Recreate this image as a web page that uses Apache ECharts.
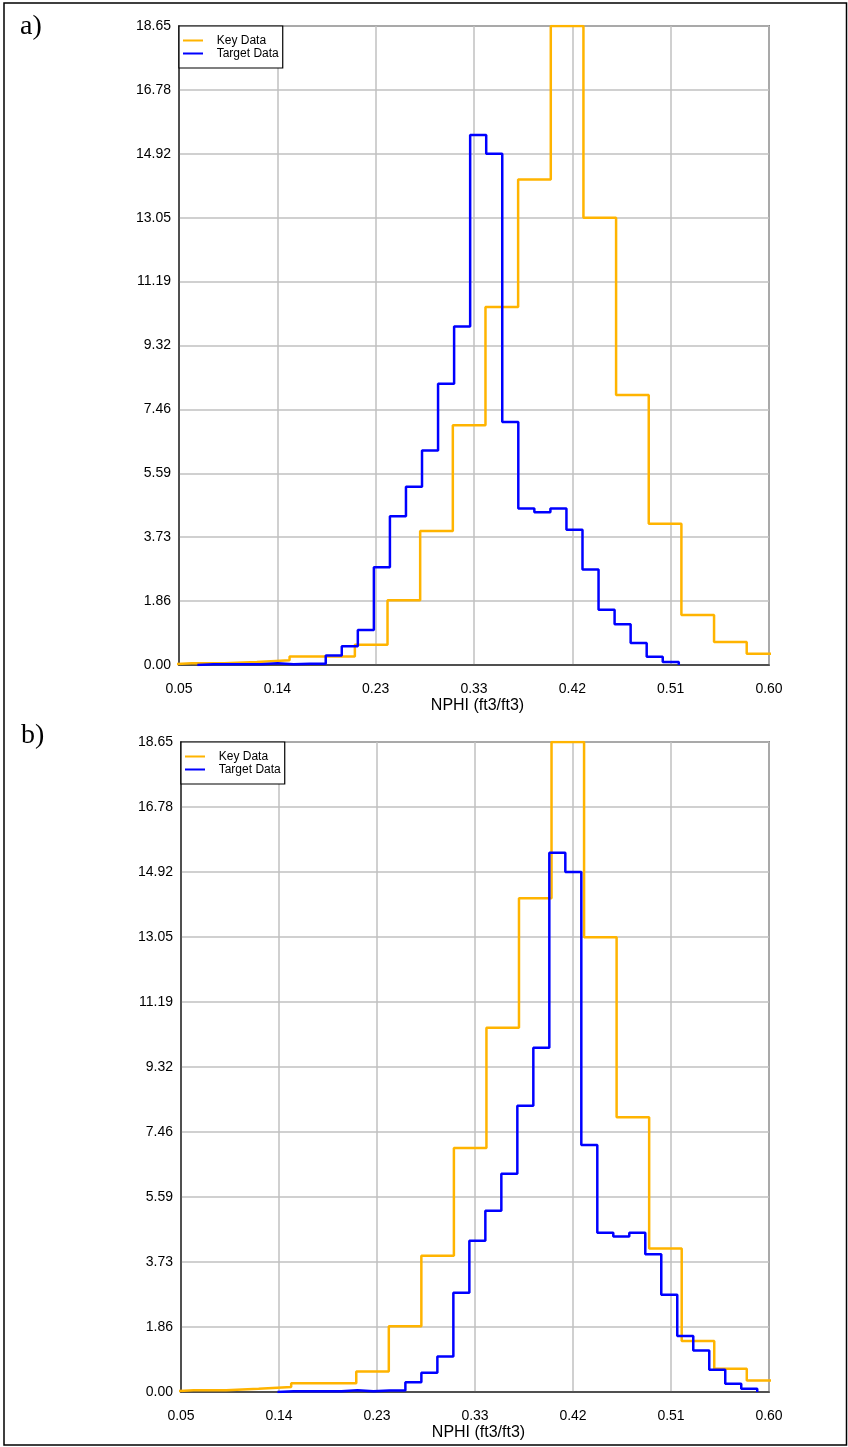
<!DOCTYPE html>
<html>
<head>
<meta charset="utf-8">
<title>NPHI histograms</title>
<script src="https://cdn.jsdelivr.net/npm/echarts@6/dist/echarts.min.js"></script>
<style>
  html, body { margin: 0; padding: 0; background: #ffffff; }
  #chart { width: 848px; height: 1447px; }
</style>
</head>
<body>
<div id="chart"></div>
<script>
// Axis ticks (shared by both panels)
const xTickLabels = ['0.05', '0.14', '0.23', '0.33', '0.42', '0.51', '0.60'];
const yTickLabels = ['0.00', '1.86', '3.73', '5.59', '7.46', '9.32', '11.19', '13.05', '14.92', '16.78', '18.65'];
const xMin = 0.05;
const xMax = 0.60;
const yMin = 0;
const yMax = 18.65;

// Key well NPHI histogram (percent of samples per bin)
const keyBinStart = 0.0313;
const keyBinWidth = 0.03044;
const keyCounts = [0.05, 0.05, 0.09, 0.14, 0.25, 0.25, 0.59, 1.89, 3.91, 7.00,
                   10.45, 14.17, 18.65, 13.05, 7.88, 4.12, 1.46, 0.67, 0.33];

// Target well NPHI histogram; panel b shows it after the shift
const targetBinWidth = 0.01496;
const targetBinStartA = 0.0671;
const targetBinStartB = 0.1402;
const targetCounts = [0.02, 0.02, 0.02, 0.02, 0.05, 0.02, 0.04, 0.04, 0.28, 0.55,
                      1.02, 2.85, 4.34, 5.20, 6.26, 8.21, 9.88, 15.47, 14.92, 7.09,
                      4.57, 4.46, 4.57, 3.95, 2.79, 1.61, 1.19, 0.64, 0.24, 0.09];

const seriesNames = ['Key Data', 'Target Data'];
const keyColor = '#ffb400';
const targetColor = '#0000ff';

// Outline of a histogram as step points: [binStart, count] ... closed down to zero
function histogramOutline(start, width, counts) {
  const pts = [[start, 0]];
  counts.forEach(function (c, i) { pts.push([start + i * width, c]); });
  const end = start + counts.length * width;
  pts.push([end, counts[counts.length - 1]]);
  pts.push([end, 0]);
  return pts;
}

const fontSans = '"Liberation Sans", Arial, Helvetica, sans-serif';
const xStep = (xMax - xMin) / (xTickLabels.length - 1);
const yStep = (yMax - yMin) / (yTickLabels.length - 1);

function xAxisFor(gridIndex) {
  return {
    type: 'value', gridIndex: gridIndex,
    min: xMin, max: xMax, interval: xStep,
    name: 'NPHI (ft3/ft3)', nameLocation: 'middle', nameGap: 33,
    nameTextStyle: { fontFamily: fontSans, fontSize: 16, color: '#000', padding: [0, 0, 0, 7] },
    axisLine: { show: true, lineStyle: { color: '#333333', width: 1.5 } },
    axisTick: { show: false },
    axisLabel: {
      margin: 17, fontFamily: fontSans, fontSize: 14, color: '#000',
      formatter: function (v) { return xTickLabels[Math.round((v - xMin) / xStep)]; }
    },
    splitLine: { show: true, lineStyle: { color: '#c0c0c0', width: 1.5 } }
  };
}

function yAxisFor(gridIndex) {
  return {
    type: 'value', gridIndex: gridIndex,
    min: yMin, max: yMax, interval: yStep,
    axisLine: { show: true, lineStyle: { color: '#333333', width: 1.5 } },
    axisTick: { show: false },
    axisLabel: {
      margin: 8, fontFamily: fontSans, fontSize: 14, color: '#000',
      formatter: function (v) { return yTickLabels[Math.round((v - yMin) / yStep)]; }
    },
    splitLine: { show: true, lineStyle: { color: '#c0c0c0', width: 1.5 } }
  };
}

function legendFor(left, top) {
  return {
    left: left, top: top, orient: 'vertical',
    data: seriesNames,
    // short line swatch followed by empty room before the text
    icon: 'path://M0,0H20V2H0Z M28.69,0H28.7V2H28.69Z',
    itemWidth: 28.7, itemHeight: 2.5, itemGap: 0,
    padding: [8, 4, 8, 4],
    borderColor: '#000', borderWidth: 1.2, borderRadius: 0,
    backgroundColor: '#ffffff',
    selectedMode: false,
    textStyle: { fontFamily: fontSans, fontSize: 12, color: '#000', lineHeight: 13 }
  };
}

function stepSeries(name, color, axisIndex, data) {
  return {
    name: name, type: 'line', step: 'end',
    xAxisIndex: axisIndex, yAxisIndex: axisIndex,
    data: data, showSymbol: false, symbol: 'none',
    clip: true,
    lineStyle: { color: color, width: 2.5 },
    itemStyle: { color: color },
    emphasis: { disabled: true }
  };
}

const chart = echarts.init(document.getElementById('chart'), null, { renderer: 'canvas' });

chart.setOption({
  animation: false,
  backgroundColor: '#ffffff',
  grid: [
    { left: 179, top: 26, width: 590, height: 639, show: true, borderColor: '#333333', borderWidth: 1.5, backgroundColor: '#ffffff' },
    { left: 181, top: 742, width: 588, height: 650, show: true, borderColor: '#333333', borderWidth: 1.5, backgroundColor: '#ffffff' }
  ],
  xAxis: [xAxisFor(0), xAxisFor(1)],
  yAxis: [yAxisFor(0), yAxisFor(1)],
  legend: [legendFor(179, 26), legendFor(181, 742)],
  series: [
    stepSeries('Key Data', keyColor, 0, histogramOutline(keyBinStart, keyBinWidth, keyCounts)),
    stepSeries('Target Data', targetColor, 0, histogramOutline(targetBinStartA, targetBinWidth, targetCounts)),
    stepSeries('Key Data', keyColor, 1, histogramOutline(keyBinStart, keyBinWidth, keyCounts)),
    stepSeries('Target Data', targetColor, 1, histogramOutline(targetBinStartB, targetBinWidth, targetCounts))
  ],
  graphic: [
    {
      type: 'rect', silent: true, z: 100,
      shape: { x: 4, y: 3, width: 842.5, height: 1442 },
      style: { fill: 'none', stroke: '#000', lineWidth: 1.5 }
    },
    {
      type: 'text', left: 20, top: 13, silent: true,
      style: { text: 'a)', fontFamily: '"Liberation Serif", "Times New Roman", serif', fontSize: 28, fill: '#000' }
    },
    {
      type: 'text', left: 21, top: 722, silent: true,
      style: { text: 'b)', fontFamily: '"Liberation Serif", "Times New Roman", serif', fontSize: 28, fill: '#000' }
    }
  ]
});
</script>
</body>
</html>
